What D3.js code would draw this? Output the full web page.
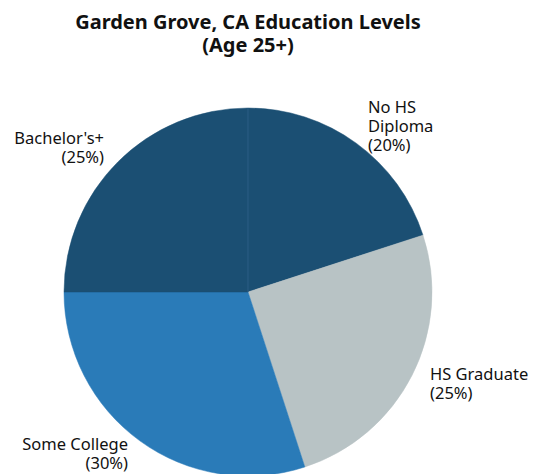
<!DOCTYPE html>
<html><head><meta charset="utf-8">
<script src="https://cdn.jsdelivr.net/npm/d3@7"></script>
<style>body{margin:0;background:#fff;}svg{display:block;}</style>
</head><body>
<svg id="c" width="543" height="474"></svg>
<script>
const categories = ["No HS Diploma", "HS Graduate", "Some College", "Bachelor's+"];
const values = [20, 25, 30, 25];
const colors = ["#1b4f73", "#b8c3c5", "#2a7bb8", "#1b4f73"];
const labelLines = [["No HS", "Diploma", "(20%)"], ["HS Graduate", "(25%)"], ["Some College", "(30%)"], ["Bachelor's+", "(25%)"]];

const svg = d3.select("#c");
const cx = 248, cy = 292, r = 184;
const font = "'Noto Sans', 'Open Sans', sans-serif";

svg.append("text").attr("x", 248).attr("y", 29).attr("text-anchor", "middle")
  .attr("font-family", font).attr("font-weight", "bold").attr("font-size", 20).attr("fill", "#111")
  .text("Garden Grove, CA Education Levels");
svg.append("text").attr("x", 248).attr("y", 52).attr("text-anchor", "middle")
  .attr("font-family", font).attr("font-weight", "bold").attr("font-size", 20).attr("fill", "#111")
  .text("(Age 25+)");

const pie = d3.pie().sort(null).value(d => d)(values);
const arc = d3.arc().innerRadius(0).outerRadius(r);
const g = svg.append("g").attr("transform", `translate(${cx},${cy})`);
g.selectAll("path").data(pie).enter().append("path")
  .attr("d", arc).attr("fill", (d, i) => colors[i])
  .attr("stroke", (d, i) => colors[i]).attr("stroke-width", 0.5);
g.append("line").attr("x1", 0).attr("y1", 0).attr("x2", 0).attr("y2", -r)
  .attr("stroke", "#2d5f86").attr("stroke-width", 1);

const lineH = 19;
pie.forEach((d, i) => {
  const a = (d.startAngle + d.endAngle) / 2;
  const lines = labelLines[i];
  const right = Math.sin(a) >= 0;
  let x, y0;
  if (i === 0) { x = 368 - cx; y0 = 113 - cy; }
  else if (i === 1) { x = 430 - cx; y0 = 380 - cy; }
  else if (i === 2) { x = 128 - cx; y0 = 450 - cy; }
  else { x = 104 - cx; y0 = 144 - cy; }
  const t = g.append("text").attr("font-family", font).attr("font-size", 16.5).attr("fill", "#111")
    .attr("text-anchor", right ? "start" : "end");
  lines.forEach((ln, k) => {
    t.append("tspan").attr("x", x).attr("y", y0 + k * lineH).text(ln);
  });
});
</script>
</body></html>
